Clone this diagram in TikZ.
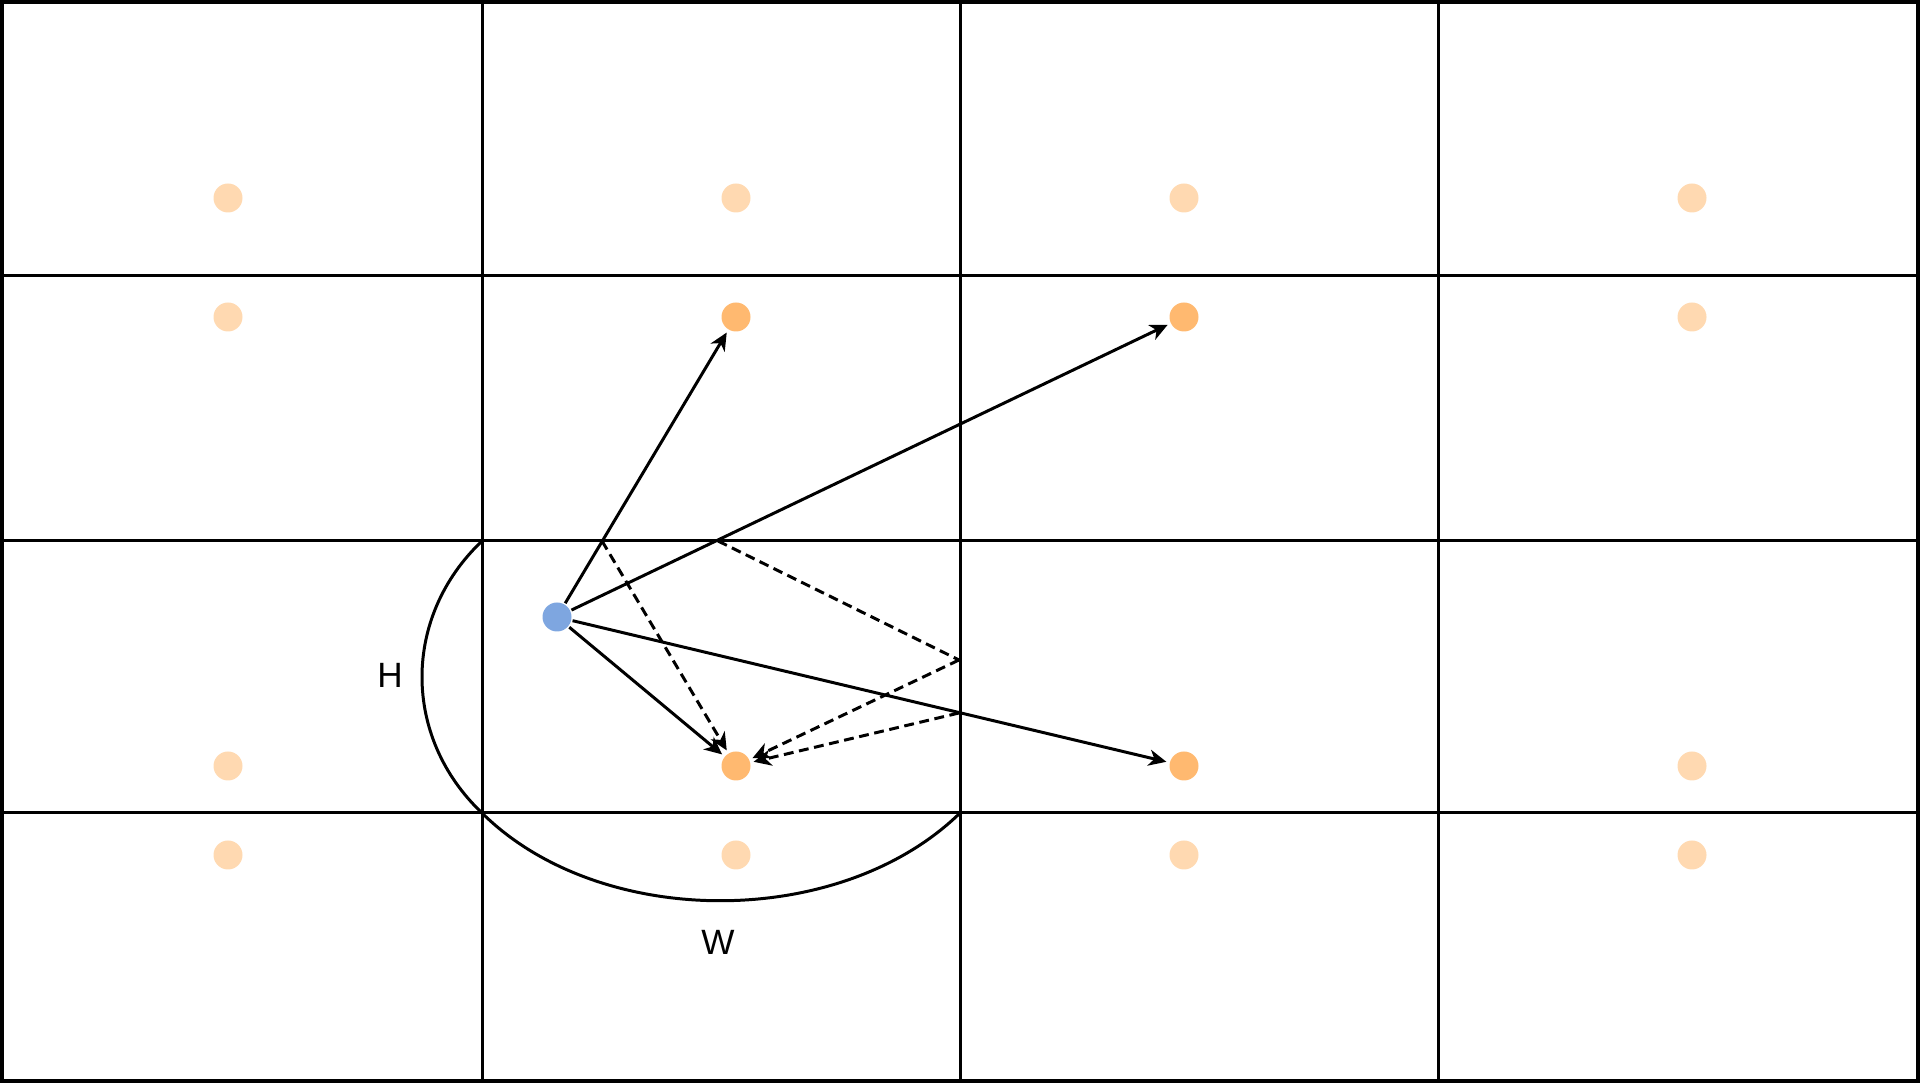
\documentclass[tikz,border=0pt]{standalone}
\usepackage{fontspec}
\setmainfont{Liberation Sans}
\usetikzlibrary{arrows.meta}
\definecolor{dotlight}{HTML}{FFD9B1}
\definecolor{dotdark}{HTML}{FFB970}
\definecolor{dotblue}{HTML}{7EA6E0}
\tikzset{
  pt/.style={circle, inner sep=0pt, minimum size=0.29cm},
  ptlight/.style={pt, fill=dotlight},
  ptdark/.style={pt, fill=dotdark},
  ptsrc/.style={pt, fill=dotblue},
  ray/.style={-{Stealth[length=5pt,width=4.6pt,inset=1.5pt]}, shorten >=0.6pt},
  bounce/.style={dash pattern=on 2.8pt off 1.6pt},
}
\begin{document}
\begin{tikzpicture}[line width=0.85pt]
\useasboundingbox (0,0) rectangle (19.2,10.83);
\draw[line width=1pt] (0.02,0.02) rectangle (19.18,10.81);
\draw (4.82,0.02) -- (4.82,10.81);
\draw (9.60,0.02) -- (9.60,10.81);
\draw (14.38,0.02) -- (14.38,10.81);
\draw (0.02,8.07) -- (19.18,8.07);
\draw (0.02,5.42) -- (19.18,5.42);
\draw (0.02,2.70) -- (19.18,2.70);
% points
\node[ptlight] (P_0_0) at (2.28,8.85) {};
\node[ptlight] (P_0_1) at (7.36,8.85) {};
\node[ptlight] (P_0_2) at (11.84,8.85) {};
\node[ptlight] (P_0_3) at (16.92,8.85) {};
\node[ptlight] (P_1_0) at (2.28,7.66) {};
\node[ptdark] (P_1_1) at (7.36,7.66) {};
\node[ptdark] (P_1_2) at (11.84,7.66) {};
\node[ptlight] (P_1_3) at (16.92,7.66) {};
\node[ptlight] (P_2_0) at (2.28,3.17) {};
\node[ptdark] (P_2_1) at (7.36,3.17) {};
\node[ptdark] (P_2_2) at (11.84,3.17) {};
\node[ptlight] (P_2_3) at (16.92,3.17) {};
\node[ptlight] (P_3_0) at (2.28,2.28) {};
\node[ptlight] (P_3_1) at (7.36,2.28) {};
\node[ptlight] (P_3_2) at (11.84,2.28) {};
\node[ptlight] (P_3_3) at (16.92,2.28) {};
\node[ptsrc] (S) at (5.57,4.66) {};
% rays
\draw[ray] (S) -- (P_1_1);
\draw[ray] (S) -- (P_1_2);
\draw[ray] (S) -- (P_2_2);
\draw[ray] (S) -- (P_2_1);
% reflected rays
\coordinate (R_a) at (6.02,5.42);
\coordinate (R_b) at (7.18,5.42);
\coordinate (R_c) at (9.59,4.23);
\coordinate (R_d) at (9.59,3.70);
\draw[ray, bounce] (R_a) -- (P_2_1);
\draw[bounce] (R_b) -- (R_c);
\draw[ray, bounce] (R_c) -- (P_2_1);
\draw[ray, bounce] (R_d) -- (P_2_1);
% size arcs
\coordinate (C_tl) at (4.82,5.42);
\coordinate (C_bl) at (4.82,2.70);
\coordinate (C_br) at (9.60,2.70);
\draw (C_tl) .. controls (4.02,4.66) and (4.02,3.46) .. (C_bl);
\draw (C_bl) .. controls (6.00,1.53) and (8.40,1.53) .. (C_br);
\node (H) at (3.90,4.08) {\fontsize{10}{12}\selectfont H};
\node (W) at (7.18,1.41) {\fontsize{10}{12}\selectfont W};
\end{tikzpicture}
\end{document}
